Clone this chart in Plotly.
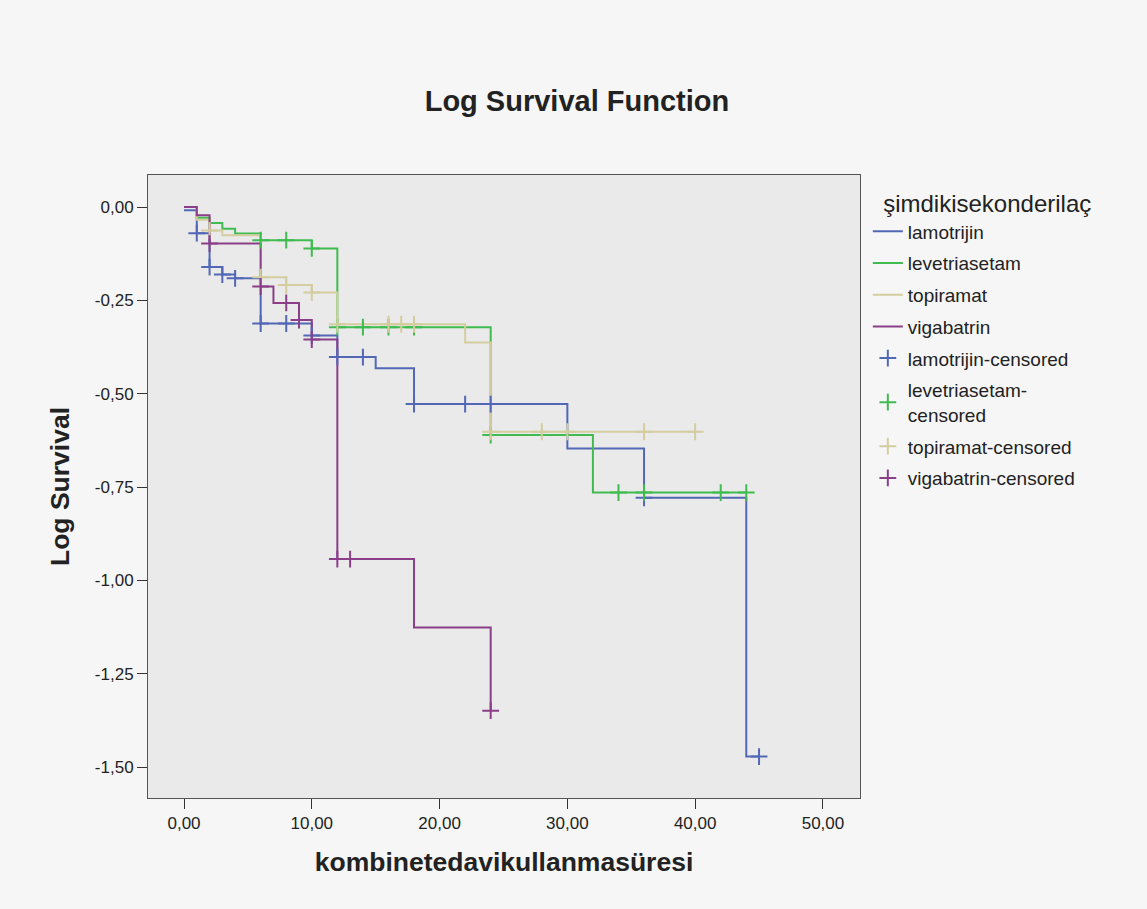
import plotly.graph_objects as go

# ---------------- data ----------------
groups = ["lamotrijin", "levetriasetam", "topiramat", "vigabatrin"]

lam_t = [0, 1, 2, 3, 4, 6, 10, 12, 15, 18, 30, 36, 44, 45]
lam_v = [-0.009, -0.070, -0.161, -0.181, -0.191, -0.312, -0.344, -0.402, -0.432, -0.528, -0.647, -0.779, -1.472, -1.472]
lam_cens = [1, 2, 3, 4, 6, 8, 10, 12, 14, 18, 22, 24, 36, 45]

lev_t = [0, 1, 2, 3, 4, 6, 10, 12, 24, 32, 44]
lev_v = [0, -0.029, -0.043, -0.058, -0.071, -0.089, -0.111, -0.322, -0.611, -0.765, -0.765]
lev_cens = [6, 8, 10, 12, 14, 16, 18, 24, 34, 36, 42, 44]

top_t = [0, 1, 2, 3, 6, 8, 10, 12, 22, 24, 40]
top_v = [0, -0.034, -0.063, -0.076, -0.188, -0.209, -0.229, -0.314, -0.363, -0.602, -0.602]
top_cens = [2, 6, 8, 10, 12, 16, 17, 18, 24, 28, 30, 36, 40]

vig_t = [0, 1, 2, 6, 7, 9, 10, 12, 18, 24]
vig_v = [0, -0.022, -0.098, -0.213, -0.257, -0.303, -0.355, -0.943, -1.126, -1.349]
vig_cens = [2, 6, 8, 9, 10, 12, 13, 24]

x_ticks = [0, 10, 20, 30, 40, 50]
x_ticktext = ["0,00", "10,00", "20,00", "30,00", "40,00", "50,00"]
y_ticks = [0, -0.25, -0.5, -0.75, -1.0, -1.25, -1.5]
y_ticktext = ["0,00", "-0,25", "-0,50", "-0,75", "-1,00", "-1,25", "-1,50"]

colors = ["#5268b6", "#3fbb4f", "#d3cd9f", "#8a3f88"]

series = [
    (lam_t, lam_v, lam_cens),
    (lev_t, lev_v, lev_cens),
    (top_t, top_v, top_cens),
    (vig_t, vig_v, vig_cens),
]


def step_value(ts, vs, t):
    val = vs[0]
    for ti, vi in zip(ts, vs):
        if ti <= t:
            val = vi
    return val


fig = go.Figure()
FONT = "Liberation Sans, Arial, sans-serif"

for i, (name, (ts, vs, _), c) in enumerate(zip(groups, series, colors)):
    fig.add_trace(go.Scatter(
        x=ts, y=vs, mode="lines", name=name,
        line=dict(color=c, width=2, shape="hv"),
        legendgroup="g%d" % i,
    ))

cens_names = ["lamotrijin-censored", "levetriasetam-<br>censored",
              "topiramat-censored", "vigabatrin-censored"]
for i, (name, (ts, vs, cs), c) in enumerate(zip(cens_names, series, colors)):
    fig.add_trace(go.Scatter(
        x=cs, y=[step_value(ts, vs, t) for t in cs], mode="markers", name=name,
        marker=dict(symbol="cross-thin", size=12, color=c, line=dict(width=2, color=c)),
        legendgroup="c%d" % i,
    ))

fig.update_layout(
    width=1147, height=909,
    margin=dict(l=148, r=287, t=175, b=111),
    paper_bgcolor="#f6f6f6", plot_bgcolor="#eaeaea",
    font=dict(family=FONT, color="#222222"),
    title=dict(text="<b>Log Survival Function</b>", x=0.503, xanchor="center",
               y=1 - 101 / 909, yanchor="middle", font=dict(size=29, color="#222222")),
    legend=dict(
        title=dict(text="\u00a0\u00a0şimdikisekonderilaç", font=dict(size=24)),
        x=1.011, xanchor="left", y=0.99, yanchor="top",
        font=dict(size=19, color="#222222"), bgcolor="rgba(0,0,0,0)",
        traceorder="grouped", tracegroupgap=4, itemwidth=30,
    ),
    showlegend=True,
)

fig.update_xaxes(
    range=[-2.817, 52.9], tickvals=x_ticks, ticktext=x_ticktext,
    ticks="outside", ticklen=10, tickwidth=1, tickcolor="#333333",
    showline=True, mirror=True, linecolor="#555555", linewidth=1,
    showgrid=False, zeroline=False, tickfont=dict(size=17),
    title=dict(text="<b>kombinetedavikullanmasüresi</b>", font=dict(size=26.5), standoff=20),
)
fig.update_yaxes(
    range=[-1.583, 0.0857], tickvals=y_ticks, ticktext=y_ticktext,
    ticks="outside", ticklen=10, tickwidth=1, tickcolor="#333333",
    showline=True, mirror=True, linecolor="#555555", linewidth=1,
    showgrid=False, zeroline=False, tickfont=dict(size=17),
    title=dict(text="<b>Log Survival</b>", font=dict(size=26.5), standoff=17),
)

fig.write_html("out.html", config={"displayModeBar": False},
               post_script="document.body.style.margin='0px';")
